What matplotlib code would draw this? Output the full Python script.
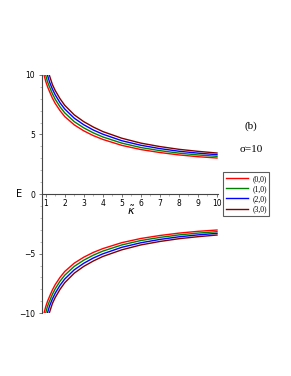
import matplotlib
matplotlib.use("Agg")
import matplotlib.pyplot as plt
import numpy as np

# upper branch E(kappa) for the four states
k_00 = [0.91, 1.0, 1.1, 1.2, 1.35, 1.5, 1.75, 2, 2.5, 3, 3.5, 4, 5, 6, 7, 8, 9, 10]
e_00 = [10.01, 9.45, 8.98, 8.60, 8.05, 7.60, 7.00, 6.50, 5.80, 5.30, 4.90, 4.58, 4.08, 3.73, 3.48, 3.28, 3.13, 3.02]
k_10 = [0.995, 1.1, 1.2, 1.35, 1.5, 1.75, 2, 2.5, 3, 3.5, 4, 5, 6, 7, 8, 9, 10]
e_10 = [10.0, 9.39, 8.99, 8.42, 7.95, 7.32, 6.81, 6.07, 5.55, 5.13, 4.79, 4.27, 3.90, 3.64, 3.43, 3.28, 3.16]
k_20 = [1.09, 1.2, 1.35, 1.5, 1.75, 2, 2.5, 3, 3.5, 4, 5, 6, 7, 8, 9, 10]
e_20 = [9.99, 9.40, 8.81, 8.32, 7.66, 7.13, 6.36, 5.81, 5.37, 5.02, 4.47, 4.09, 3.81, 3.59, 3.43, 3.30]
k_30 = [1.18, 1.35, 1.5, 1.75, 2, 2.5, 3, 3.5, 4, 5, 6, 7, 8, 9, 10]
e_30 = [10.02, 9.19, 8.68, 8.00, 7.44, 6.64, 6.07, 5.62, 5.24, 4.68, 4.27, 3.98, 3.75, 3.58, 3.44]

labels = ["(0,0)", "(1,0)", "(2,0)", "(3,0)"]
colors = ["#ff0000", "#008000", "#0000ff", "#800000"]

fig = plt.figure(figsize=(2.91, 3.76), dpi=100)
ax = fig.add_axes([0.144, 0.167, 0.605, 0.634])

curves = [(k_00, e_00), (k_10, e_10), (k_20, e_20), (k_30, e_30)]
for (k, e), c, lab in zip(curves, colors, labels):
    k = np.array(k)
    e = np.array(e)
    ax.plot(k, e, color=c, lw=1.0, label=lab)
    ax.plot(k, -e, color=c, lw=1.0)  # lower branch is the mirror image

ax.set_xlim(0.8, 10.05)
ax.set_ylim(-10, 10)
ax.spines['top'].set_visible(False)
ax.spines['right'].set_visible(False)
ax.spines['bottom'].set_position(('data', 0))
for s in ['left', 'bottom']:
    ax.spines[s].set_color('#444444')
    ax.spines[s].set_linewidth(0.8)

ax.set_xticks(range(1, 11))
ax.set_xticks(np.arange(1, 10.01, 0.5), minor=True)
ax.set_yticks([-10, -5, 0, 5, 10])
ax.set_yticks(range(-10, 11), minor=True)
ax.tick_params(axis='both', which='major', labelsize=5.5, length=2, width=0.5,
               pad=1.5, colors='#444444', labelcolor='black')
ax.tick_params(axis='both', which='minor', length=1.2, width=0.4, colors='#888888')
ax.tick_params(axis='y', pad=3)

fig.text(0.065, 0.483, "E", fontsize=7, ha='center', va='center')
fig.text(0.45, 0.44, r"$\tilde{\kappa}$", fontsize=8, ha='center', va='center')
fig.text(0.863, 0.665, "(b)", fontsize=8, family='Liberation Serif', ha='center', va='center')
fig.text(0.863, 0.603, "σ=10", fontsize=8, family='Liberation Serif', ha='center', va='center')

leg = fig.legend(loc='upper left', bbox_to_anchor=(0.766, 0.542),
                 prop={'family': 'Liberation Serif', 'size': 5.5},
                 frameon=True, fancybox=False, edgecolor='#333333',
                 handlelength=3.0, handletextpad=0.5, borderpad=0.35,
                 labelspacing=0.28, borderaxespad=0)
leg.get_frame().set_linewidth(0.8)

fig.savefig("out.png", dpi=100)
